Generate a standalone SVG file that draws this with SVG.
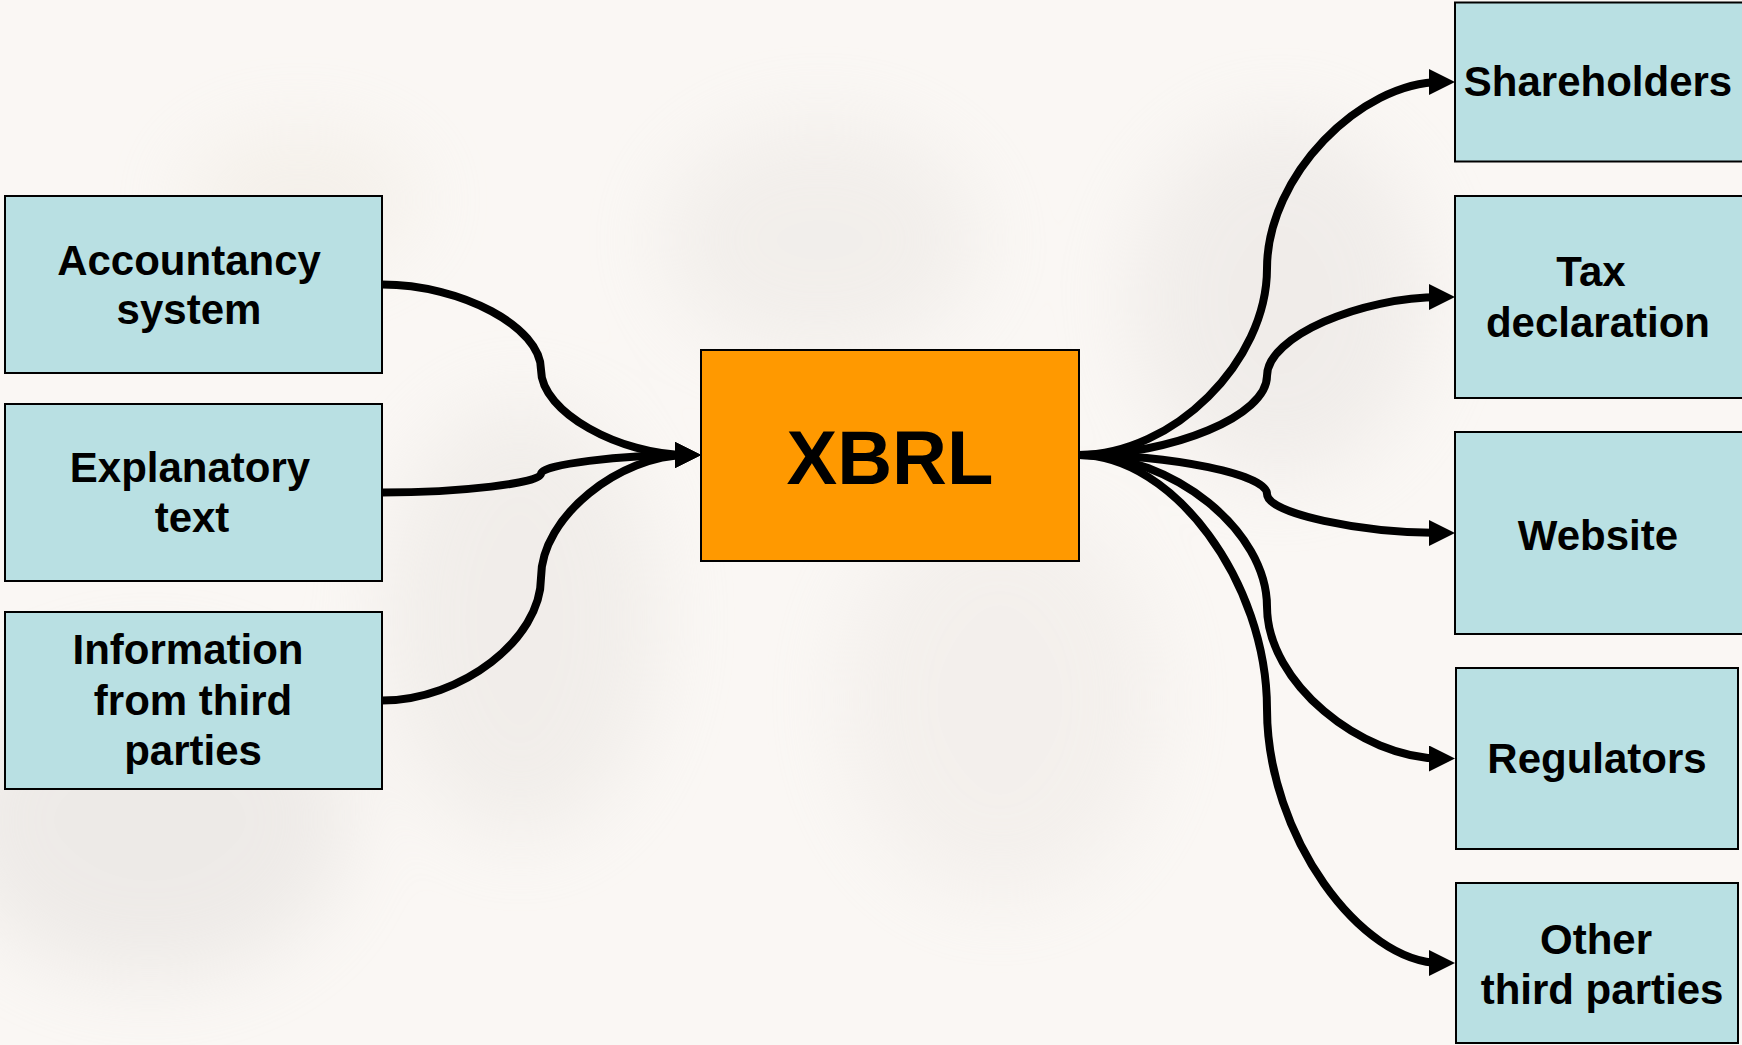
<svg xmlns="http://www.w3.org/2000/svg" width="1742" height="1045" viewBox="0 0 1742 1045">
  <style>
    .box { fill: #B9E0E3; stroke: #000000; stroke-width: 2; }
    .core { fill: #FF9900; stroke: #000000; stroke-width: 2; }
    .lbl { font-family: "Liberation Sans", Arial, sans-serif; font-weight: bold; font-size: 42px; fill: #000000; text-anchor: middle; }
    .big { font-family: "Liberation Sans", Arial, sans-serif; font-weight: bold; font-size: 76px; fill: #000000; text-anchor: middle; }
    .conn { fill: none; stroke: #000000; stroke-width: 8; marker-end: url(#arrow); }
  </style>
  <defs>
    <marker id="arrow" markerUnits="userSpaceOnUse" viewBox="0 0 26 26" markerWidth="26" markerHeight="26" refX="12" refY="13" orient="auto">
      <path d="M0,0 L26,13 L0,26 Z" fill="#000000"/>
    </marker>
    <filter id="soft" x="-50%" y="-50%" width="200%" height="200%">
      <feGaussianBlur stdDeviation="40"/>
    </filter>
  </defs>

  <g id="background">
    <rect x="0" y="0" width="1742" height="1045" fill="#FAF7F4"/>
    <g filter="url(#soft)" opacity="0.4">
      <ellipse cx="150" cy="820" rx="200" ry="160" fill="#DCD8D5"/>
      <ellipse cx="520" cy="620" rx="140" ry="220" fill="#E4E0DC"/>
      <ellipse cx="820" cy="240" rx="160" ry="120" fill="#E6E2DE"/>
      <ellipse cx="1280" cy="300" rx="150" ry="180" fill="#E2DEDB"/>
      <ellipse cx="1000" cy="700" rx="160" ry="200" fill="#EAE5E1"/>
      <ellipse cx="300" cy="200" rx="120" ry="70" fill="#ECE6DC"/>
    </g>
  </g>

  <g id="connectors">
    <path class="conn" d="M382,284.5 C461.5,284.5 541,327.1 541,369.75 C541,412.4 620.5,455 687,455"/>
    <path class="conn" d="M382,492.5 C461.5,492.5 541,483.1 541,473.75 C541,464.4 620.5,455 687,455"/>
    <path class="conn" d="M382,700.5 C461.5,700.5 541,639.1 541,577.75 C541,516.4 620.5,455 687,455"/>
    <path class="conn" d="M1079,455 C1173,455 1267,361.75 1267,268.5 C1267,175.25 1361,82 1441,82"/>
    <path class="conn" d="M1079,455 C1173,455 1267,415.5 1267,376 C1267,336.5 1361,297 1441,297"/>
    <path class="conn" d="M1079,455 C1173,455 1267,474.5 1267,494 C1267,513.5 1361,533 1441,533"/>
    <path class="conn" d="M1079,455 C1173,455 1267,530.9 1267,606.75 C1267,682.6 1361,758.5 1441,758.5"/>
    <path class="conn" d="M1079,455 C1173,455 1267,582 1267,709 C1267,836 1361,963 1441,963"/>
  </g>

  <g id="accountancy">
    <rect class="box" x="5" y="196" width="377" height="177"/>
    <text class="lbl" x="189" y="275">Accountancy</text>
    <text class="lbl" x="189" y="324">system</text>
  </g>
  <g id="explanatory">
    <rect class="box" x="5" y="404" width="377" height="177"/>
    <text class="lbl" x="190" y="482">Explanatory</text>
    <text class="lbl" x="192" y="532">text</text>
  </g>
  <g id="thirdparty-info">
    <rect class="box" x="5" y="612" width="377" height="177"/>
    <text class="lbl" x="188" y="664">Information</text>
    <text class="lbl" x="193" y="715">from third</text>
    <text class="lbl" x="193" y="765">parties</text>
  </g>

  <g id="xbrl">
    <rect class="core" x="701" y="350" width="378" height="211"/>
    <text class="big" x="890" y="484">XBRL</text>
  </g>

  <g id="shareholders">
    <rect class="box" x="1455" y="2.5" width="300" height="159"/>
    <text class="lbl" x="1598" y="96">Shareholders</text>
  </g>
  <g id="tax">
    <rect class="box" x="1455" y="196" width="300" height="202"/>
    <text class="lbl" x="1591" y="286">Tax</text>
    <text class="lbl" x="1598" y="337">declaration</text>
  </g>
  <g id="website">
    <rect class="box" x="1455" y="432" width="300" height="202"/>
    <text class="lbl" x="1598" y="550">Website</text>
  </g>
  <g id="regulators">
    <rect class="box" x="1456" y="668" width="282" height="181"/>
    <text class="lbl" x="1597" y="773">Regulators</text>
  </g>
  <g id="other">
    <rect class="box" x="1456" y="883" width="282" height="160"/>
    <text class="lbl" x="1596" y="954">Other</text>
    <text class="lbl" x="1602" y="1004">third parties</text>
  </g>
</svg>
